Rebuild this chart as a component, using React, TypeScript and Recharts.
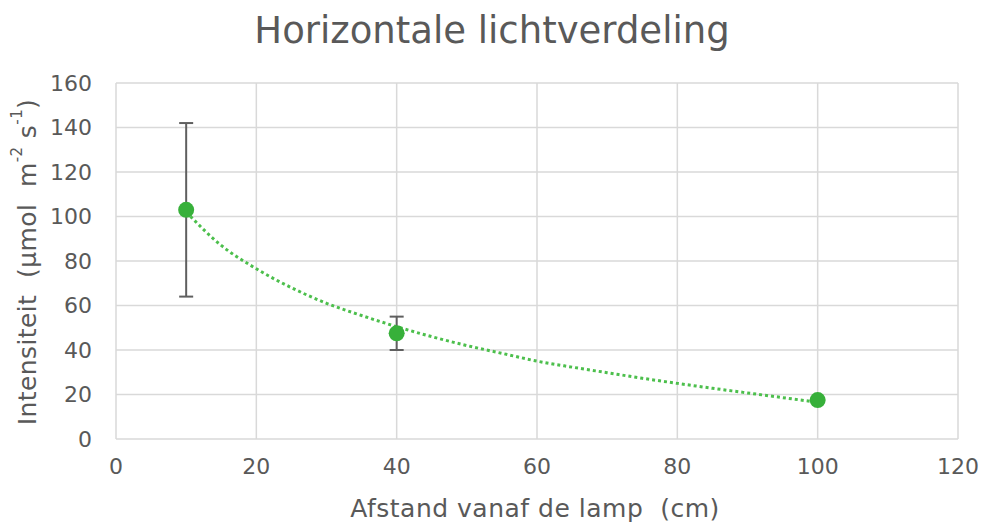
import {
  ComposedChart,
  Scatter,
  Line,
  XAxis,
  YAxis,
  CartesianGrid,
  ErrorBar,
  Label,
} from 'recharts';

// measured points (afstand in cm, intensiteit, std. dev.)
const distances = [10, 40, 100];
const intensities = [103, 47.5, 17.5];
const errors = [39, 7.5, 0];

// dotted trendline
const trendX = [10, 15, 20, 25, 30, 35, 40, 45, 50, 55, 60, 65, 70, 75, 80, 85, 90, 95, 100];
const trendY = [102, 87, 76.5, 68, 61, 55.5, 50.5, 46, 42, 38.5, 35, 32.3, 29.8, 27.3, 25, 22.8, 20.7, 18.6, 16.5];

const xTicks = [0, 20, 40, 60, 80, 100, 120];
const yTicks = [0, 20, 40, 60, 80, 100, 120, 140, 160];

const FONT = '"DejaVu Sans", Verdana, sans-serif';
const TEXT = '#595959';
const GREEN = '#37b03a';

const points = distances.map((x, i) => ({ x, y: intensities[i], err: errors[i] }));
const trend = trendX.map((x, i) => ({ x, y: trendY[i] }));

const YTitle = () => (
  <text
    x={27}
    y={262}
    transform="rotate(-90, 27, 262)"
    textAnchor="middle"
    dominantBaseline="central"
    fill={TEXT}
    fontFamily={FONT}
    fontSize={25}
    letterSpacing={0.4}
  >
    <tspan>Intensiteit{'\u00a0\u00a0'}(µmol{'\u00a0\u00a0'}m</tspan>
    <tspan fontSize={15} dy={-10}>-2</tspan>
    <tspan dy={10}>{'\u00a0'}s</tspan>
    <tspan fontSize={15} dy={-10}>-1</tspan>
    <tspan dy={10}>)</tspan>
  </text>
);

const XTitle = () => (
  <text
    x={535}
    y={508}
    textAnchor="middle"
    dominantBaseline="central"
    fill={TEXT}
    fontFamily={FONT}
    fontSize={25}
    letterSpacing={0.5}
  >
    {'Afstand vanaf de lamp\u00a0\u00a0(cm)'}
  </text>
);

export default function App() {
  return (
    <div style={{ position: 'absolute', left: 0, top: 0, width: 984, height: 524, background: '#fff' }}>
      <div
        style={{
          position: 'absolute',
          left: 0,
          top: 9,
          width: 984,
          textAlign: 'center',
          fontFamily: FONT,
          fontSize: 37,
          color: TEXT,
        }}
      >
        Horizontale lichtverdeling
      </div>
      <ComposedChart
        width={984}
        height={524}
        data={points}
        margin={{ top: 83, right: 26, bottom: 0, left: 0 }}
      >
        <CartesianGrid stroke="#d9d9d9" strokeWidth={1.5} />
        <XAxis
          type="number"
          dataKey="x"
          domain={[0, 120]}
          ticks={xTicks}
          axisLine={false}
          tickLine={false}
          tickSize={0}
          tickMargin={19}
          tick={{ fill: TEXT, fontSize: 22, fontFamily: FONT }}
          height={85}
        >
          <Label content={XTitle} />
        </XAxis>
        <YAxis
          type="number"
          dataKey="y"
          domain={[0, 160]}
          ticks={yTicks}
          axisLine={false}
          tickLine={false}
          tickSize={0}
          tickMargin={24}
          tick={{ fill: TEXT, fontSize: 22, fontFamily: FONT }}
          width={116}
        >
          <Label content={YTitle} />
        </YAxis>
        <Line
          data={trend}
          dataKey="y"
          type="monotone"
          stroke="#4cbf4c"
          strokeWidth={3}
          strokeDasharray="3 3"
          dot={false}
          activeDot={false}
          isAnimationActive={false}
        />
        <Scatter
          data={points}
          dataKey="y"
          fill={GREEN}
          shape={(p: any) => <circle cx={p.cx} cy={p.cy} r={8} fill={GREEN} />}
          isAnimationActive={false}
        >
          <ErrorBar dataKey="err" width={7} stroke="#5f5f5f" strokeWidth={2} direction="y" />
        </Scatter>
      </ComposedChart>
    </div>
  );
}
